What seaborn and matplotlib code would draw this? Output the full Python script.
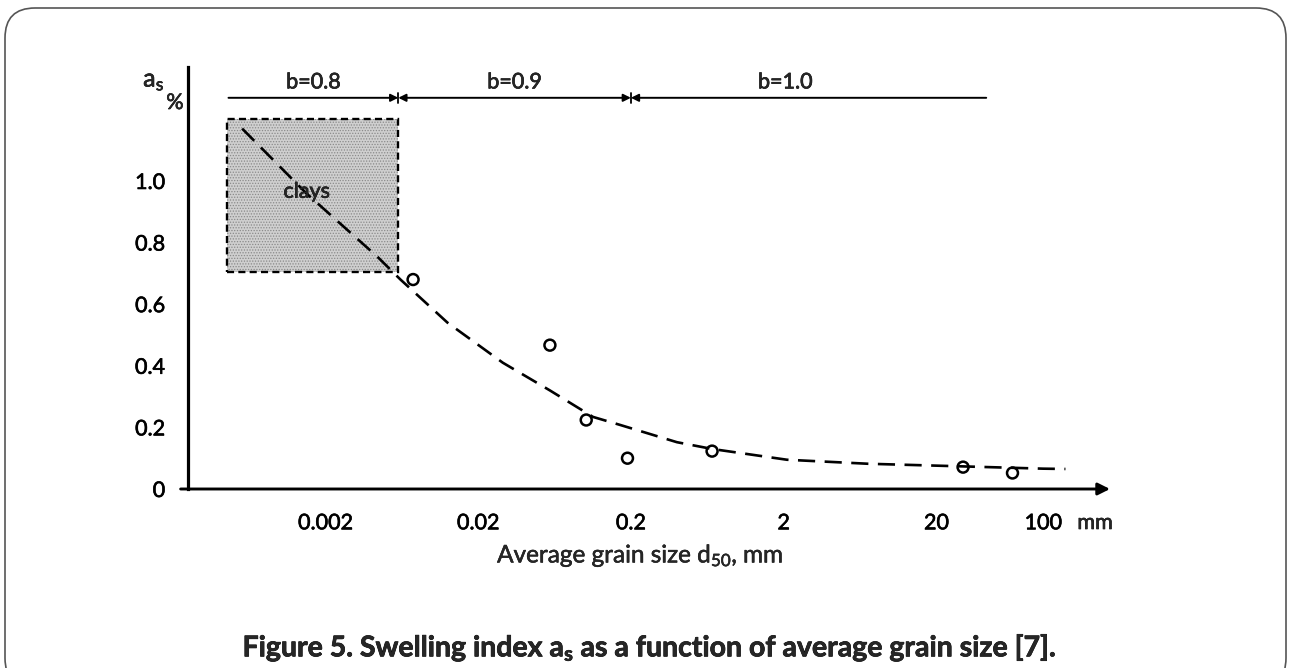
import matplotlib
matplotlib.use("Agg")
import matplotlib.pyplot as plt
import matplotlib.patheffects as pe
import seaborn as sns
import numpy as np
import pandas as pd
from matplotlib.patches import Rectangle, FancyBboxPatch

# ---- data ----
grain_size_mm = [0.0075, 0.059, 0.102, 0.19, 0.68, 29.9, 63]
swelling_pct = [0.68, 0.467, 0.224, 0.10, 0.123, 0.071, 0.052]

curve_x = [0.00057, 0.0015, 0.0044, 0.0062, 0.0126, 0.029, 0.059, 0.113,
           0.17, 0.40, 0.68, 2.1, 7.1, 27, 100, 140]
curve_y = [1.17, 0.96, 0.753, 0.68, 0.54, 0.41, 0.32, 0.234,
           0.208, 0.152, 0.13, 0.095, 0.082, 0.074, 0.066, 0.065]

x_ticks = [0.002, 0.02, 0.2, 2, 20, 100]
x_tick_labels = ["0.002", "0.02", "0.2", "2", "20", "100"]
y_ticks = [0, 0.2, 0.4, 0.6, 0.8, 1.0]
y_tick_labels = ["0", "0.2", "0.4", "0.6", "0.8", "1.0"]

zone_bounds = [0.000464, 0.006, 0.2, 42.4]
zone_labels = ["b=0.8", "b=0.9", "b=1.0"]
zone_y = 1.27
zone_label_y = 1.32

clay_x = [0.000457, 0.00601]
clay_y = [0.705, 1.20]

# ---- style ----
sns.set_style("white")
FONT = "Lato"
plt.rcParams["font.family"] = [FONT, "DejaVu Sans"]
plt.rcParams["mathtext.fontset"] = "custom"
plt.rcParams["mathtext.rm"] = FONT
plt.rcParams["mathtext.bf"] = FONT + ":bold"
plt.rcParams["mathtext.it"] = FONT + ":italic"
plt.rcParams["hatch.linewidth"] = 0.6

THICK = [pe.withStroke(linewidth=0.45, foreground="black")]

W, H = 1289, 668
fig = plt.figure(figsize=(W / 100, H / 100), dpi=100)
fig.patch.set_facecolor("white")

def fx(px):
    return px / W

def fy(py):
    return 1 - py / H

ax = fig.add_axes([fx(188), fy(489), fx(1110) - fx(188), fy(67) - fy(489)])
ax.set_facecolor("none")
ax.set_xscale("log")
ax.set_xlim(0.000252, 274)
ax.set_ylim(0, 1.37)

# clays box (stippled fill + dashed border)
fill = Rectangle((clay_x[0], clay_y[0]), clay_x[1] - clay_x[0], clay_y[1] - clay_y[0],
                 facecolor="#cfcfcf", edgecolor="#8a8a8a", lw=0, hatch="......", zorder=1)
ax.add_patch(fill)
edge = Rectangle((clay_x[0], clay_y[0]), clay_x[1] - clay_x[0], clay_y[1] - clay_y[0],
                 facecolor="none", edgecolor="black", lw=1.7, linestyle=(0, (3, 1.8)), zorder=1.5)
ax.add_patch(edge)
ax.text(np.sqrt(0.0012 * 0.0019), 0.965, "clays", ha="center", va="center",
        fontsize=15.5, zorder=3, path_effects=THICK)

# dashed trend curve
df_curve = pd.DataFrame({"d50": curve_x, "as": curve_y})
sns.lineplot(data=df_curve, x="d50", y="as", ax=ax, color="black", lw=1.9, sort=False, zorder=2)
ax.lines[-1].set_dashes((6.5, 3.6))

# data points
df_pts = pd.DataFrame({"d50": grain_size_mm, "as": swelling_pct})
sns.scatterplot(data=df_pts, x="d50", y="as", ax=ax, marker="o", s=62,
                facecolors="none", edgecolor="black", linewidth=1.8, zorder=4)

# zone annotations
arrow_kw = dict(color="black", lw=1.4, shrinkA=0, shrinkB=0, mutation_scale=11)
ax.annotate("", xy=(zone_bounds[1], zone_y), xytext=(zone_bounds[0], zone_y),
            arrowprops=dict(arrowstyle="-|>", **arrow_kw))
ax.annotate("", xy=(zone_bounds[2], zone_y), xytext=(zone_bounds[1], zone_y),
            arrowprops=dict(arrowstyle="<|-|>", **arrow_kw))
ax.annotate("", xy=(zone_bounds[3], zone_y), xytext=(zone_bounds[2], zone_y),
            arrowprops=dict(arrowstyle="<|-", **arrow_kw))
for b in zone_bounds[1:3]:
    ax.plot([b, b], [zone_y - 0.016, zone_y + 0.016], color="black", lw=1.3)
for i, lab in enumerate(zone_labels):
    xc = np.sqrt(zone_bounds[i] * zone_bounds[i + 1])
    if i == 2:
        xc = 2.05
    ax.text(xc, zone_label_y, lab, ha="center", va="center", fontsize=15.5, path_effects=THICK)

# axes styling
for s in ["top", "right", "bottom"]:
    ax.spines[s].set_visible(False)
ax.spines["left"].set_linewidth(2.3)
ax.spines["left"].set_color("black")
ax.annotate("", xy=(1.0, 0), xytext=(-0.008, 0), xycoords="axes fraction",
            textcoords="axes fraction",
            arrowprops=dict(arrowstyle="-|>", color="black", lw=2.1, shrinkA=0, shrinkB=0,
                            mutation_scale=18), annotation_clip=False)

ax.set_xticks(x_ticks)
ax.set_xticklabels(x_tick_labels)
ax.xaxis.set_minor_locator(matplotlib.ticker.NullLocator())
ax.set_yticks(y_ticks)
ax.set_yticklabels(y_tick_labels)
ax.tick_params(axis="both", direction="out", length=4.5, width=1.5, color="black",
               labelsize=15.5, labelcolor="black")
ax.tick_params(axis="y", pad=12)
ax.tick_params(axis="x", pad=13)
for t in ax.get_xticklabels() + ax.get_yticklabels():
    t.set_path_effects(THICK)
ax.set_xlabel("")
ax.set_ylabel("")

# figure texts
fig.text(fx(154), fy(81), r"$\mathrm{a}_\mathrm{s}$", ha="center", va="center", fontsize=18,
         path_effects=THICK)
fig.text(fx(175), fy(103), "%", ha="center", va="center", fontsize=15.5, path_effects=THICK)
fig.text(fx(1095), fy(523), "mm", ha="center", va="center", fontsize=15.5, path_effects=THICK)
fig.text(fx(640), fy(556), r"Average grain size d$_{\mathrm{50}}$, mm", ha="center", va="center",
         fontsize=17.5, path_effects=[pe.withStroke(linewidth=0.35, foreground="black")])
fig.text(fx(650), fy(648), r"Figure 5. Swelling index a$_{\mathbf{s}}$ as a function of average grain size [7].",
         ha="center", va="center", fontsize=20.5, fontweight="bold",
         path_effects=[pe.withStroke(linewidth=0.5, foreground="black")])

# rounded border
border = FancyBboxPatch((0.05, -0.2), 12.81, 6.80,
                        boxstyle="round,pad=0,rounding_size=0.3",
                        transform=fig.dpi_scale_trans, facecolor="none",
                        edgecolor="#555555", lw=1.2, clip_on=False)
fig.patches.append(border)

fig.savefig("out.png", dpi=100)
